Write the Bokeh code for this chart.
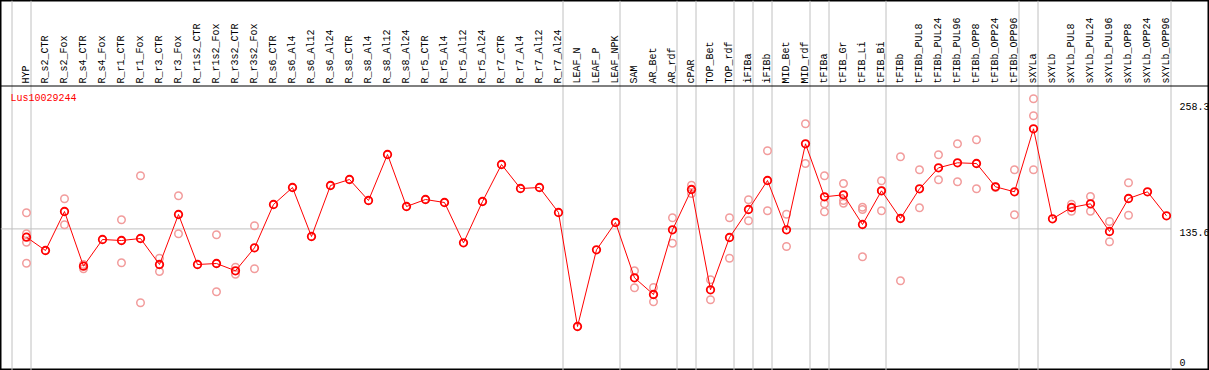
import math
from bokeh.plotting import figure
from bokeh.models import Range1d, ColumnDataSource
from bokeh.core.properties import value
from bokeh.embed import file_html
from bokeh.resources import INLINE

# ---------------- data ----------------
gene_id = "Lus10029244"

categories = [
    "HYP", "R_s2_CTR", "R_s2_Fox", "R_s4_CTR", "R_s4_Fox", "R_r1_CTR", "R_r1_Fox",
    "R_r3_CTR", "R_r3_Fox", "R_r1s2_CTR", "R_r1s2_Fox", "R_r3s2_CTR", "R_r3s2_Fox",
    "R_s6_CTR", "R_s6_Al4", "R_s6_Al12", "R_s6_Al24", "R_s8_CTR", "R_s8_Al4",
    "R_s8_Al12", "R_s8_Al24", "R_r5_CTR", "R_r5_Al4", "R_r5_Al12", "R_r5_Al24",
    "R_r7_CTR", "R_r7_Al4", "R_r7_Al12", "R_r7_Al24", "LEAF_N", "LEAF_P", "LEAF_NPK",
    "SAM", "AR_Bet", "AR_rdf", "cPAR", "TOP_Bet", "TOP_rdf", "iFIBa", "iFIBb",
    "MID_Bet", "MID_rdf", "tFIBa", "tFIB_Gr", "tFIB_Li", "tFIB_Bi", "tFIBb",
    "tFIBb_PUL8", "tFIBb_PUL24", "tFIBb_PUL96", "tFIBb_OPP8", "tFIBb_OPP24",
    "tFIBb_OPP96", "sXYLa", "sXYLb", "sXYLb_PUL8", "sXYLb_PUL24", "sXYLb_PUL96",
    "sXYLb_OPP8", "sXYLb_OPP24", "sXYLb_OPP96",
]

mean_values = [
    127.3, 114.0, 153.0, 98.3, 125.0, 124.0, 126.0, 100.0, 150.0, 100.0, 101.0,
    93.7, 116.7, 160.0, 177.0, 128.0, 179.0, 185.0, 164.0, 210.0, 158.0, 165.0,
    162.0, 121.7, 163.0, 200.0, 176.0, 177.0, 152.0, 38.0, 114.7, 142.0, 86.7,
    70.0, 134.7, 175.0, 74.7, 127.0, 155.0, 184.0, 134.7, 220.7, 167.7, 169.7,
    140.0, 173.7, 146.0, 175.7, 196.7, 201.7, 201.0, 177.7, 172.7, 235.7, 145.7,
    157.0, 160.7, 133.0, 166.0, 172.7, 148.7,
]

replicate_category = [
    "HYP", "HYP", "HYP", "HYP",
    "R_s2_Fox", "R_s2_Fox",
    "R_s4_CTR", "R_s4_CTR",
    "R_r1_CTR", "R_r1_CTR",
    "R_r1_Fox", "R_r1_Fox",
    "R_r3_CTR", "R_r3_CTR",
    "R_r3_Fox", "R_r3_Fox",
    "R_r1s2_Fox", "R_r1s2_Fox",
    "R_r3s2_CTR", "R_r3s2_CTR",
    "R_r3s2_Fox", "R_r3s2_Fox",
    "SAM", "SAM",
    "AR_Bet", "AR_Bet",
    "AR_rdf", "AR_rdf",
    "cPAR", "cPAR",
    "TOP_Bet", "TOP_Bet",
    "TOP_rdf", "TOP_rdf",
    "iFIBa", "iFIBa",
    "iFIBb", "iFIBb",
    "MID_Bet", "MID_Bet",
    "MID_rdf", "MID_rdf",
    "tFIBa", "tFIBa", "tFIBa",
    "tFIB_Gr", "tFIB_Gr", "tFIB_Gr",
    "tFIB_Li", "tFIB_Li", "tFIB_Li",
    "tFIB_Bi", "tFIB_Bi", "tFIB_Bi",
    "tFIBb", "tFIBb",
    "tFIBb_PUL8", "tFIBb_PUL8",
    "tFIBb_PUL24", "tFIBb_PUL24",
    "tFIBb_PUL96", "tFIBb_PUL96",
    "tFIBb_OPP8", "tFIBb_OPP8",
    "tFIBb_OPP24", "tFIBb_OPP24",
    "tFIBb_OPP96", "tFIBb_OPP96",
    "sXYLa", "sXYLa", "sXYLa",
    "sXYLb_PUL8", "sXYLb_PUL8",
    "sXYLb_PUL24", "sXYLb_PUL24",
    "sXYLb_PUL96", "sXYLb_PUL96",
    "sXYLb_OPP8", "sXYLb_OPP8",
]

replicate_values = [
    151.7, 130.7, 122.3, 101.3,
    165.7, 139.7,
    100.0, 95.7,
    144.7, 101.7,
    188.7, 61.7,
    106.3, 93.0,
    168.7, 130.7,
    129.7, 72.7,
    97.3, 90.3,
    138.7, 95.7,
    93.7, 76.7,
    77.0, 62.7,
    146.7, 121.3,
    179.3, 171.0,
    84.7, 64.7,
    146.7, 106.3,
    164.7, 143.7,
    213.7, 153.7,
    150.3, 118.0,
    240.7, 201.0,
    188.7, 160.7, 152.7,
    181.0, 164.0, 161.3,
    157.3, 155.0, 107.7,
    183.7, 173.7, 153.7,
    207.7, 83.7,
    194.7, 156.7,
    209.7, 184.7,
    220.7, 182.7,
    224.7, 175.7,
    177.7, 177.0,
    194.7, 149.7,
    265.7, 248.7, 194.7,
    160.3, 153.3,
    168.0, 153.3,
    143.0, 122.7,
    181.7, 149.3,
]

# sizes of the sample groups separated by vertical lines
group_sizes = [1, 28, 3, 3, 1, 2, 1, 1, 2, 1, 3, 7, 1, 7]

y_tick_values = [0, 135.6, 258.3]
y_tick_labels = ["0", "135.6", "258.3"]
reference_value = 135.6

# ---------------- layout (pixels) ----------------
W, H = 1209, 370
COL = 19            # pixels per sample column
FIRST_X = 26        # pixel of first sample
HEADER = 85         # pixel row of header divider
Y_BOTTOM = -6       # value at bottom pixel (1 px per unit)

FONT = value("Liberation Mono")
FSIZE = "10px"
RED = "#ff0000"
PINK = "#f29c9c"
GRAY = "#c0c0c0"

x_start = -FIRST_X / COL
x_end = (W - FIRST_X) / COL
y_start = Y_BOTTOM
y_end = Y_BOTTOM + H

idx = {c: i for i, c in enumerate(categories)}
n = len(categories)
xs = list(range(n))

p = figure(width=W, height=H, x_range=Range1d(x_start, x_end),
           y_range=Range1d(y_start, y_end), output_backend="svg",
           toolbar_location=None, x_axis_type=None, y_axis_type=None,
           min_border=0, background_fill_color="white",
           border_fill_color="white")
p.grid.visible = False
p.outline_line_color = "black"
p.outline_line_width = 2

# vertical group separators (through header too)
sep_off = 4.5 / COL
bounds = [-1]
acc = -1
for g in group_sizes:
    acc += g
    bounds.append(acc)
sep_x = [b + sep_off for b in bounds]
p.segment(x0=sep_x, y0=[y_start] * len(sep_x), x1=sep_x, y1=[y_end] * len(sep_x),
          line_color=GRAY, line_width=1)

# header divider
hdr_y = y_end - HEADER - 0.5
p.segment(x0=[x_start], y0=[hdr_y], x1=[x_end], y1=[hdr_y],
          line_color="black", line_width=1)

# reference gridline
p.segment(x0=[x_start], y0=[reference_value], x1=[sep_x[-1]], y1=[reference_value],
          line_color=GRAY, line_width=1)

# category labels (rotated)
lab_src = ColumnDataSource(dict(x=xs, y=[y_end - 83] * n, t=categories))
p.text(x="x", y="y", text="t", source=lab_src, angle=math.pi / 2,
       text_align="left", text_baseline="middle", text_font=FONT,
       text_font_size=FSIZE, text_color="black")

# gene id
p.text(x=[(10 - FIRST_X) / COL], y=[y_end - 97.5], text=[gene_id],
       text_align="left", text_baseline="middle", text_font=FONT,
       text_font_size=FSIZE, text_color=RED)

# value labels at right
lx = (1179 - FIRST_X) / COL
tick_src = ColumnDataSource(dict(x=[lx] * len(y_tick_values), y=y_tick_values,
                                 t=y_tick_labels, dy=[-2, 3.5, 0]))
p.text(x="x", y="y", text="t", y_offset="dy", source=tick_src,
       text_align="left", text_baseline="middle", text_font=FONT,
       text_font_size=FSIZE, text_color="black")

# replicates
rep_x = [idx[c] for c in replicate_category]
p.scatter(x=rep_x, y=replicate_values, marker="circle", size=7.5,
          line_color=PINK, line_width=1.5, fill_color=None)

# mean profile
p.line(x=xs, y=mean_values, line_color=RED, line_width=1)
p.scatter(x=xs, y=mean_values, marker="circle", size=7.5, line_color=RED,
          line_width=1.8, fill_color=None)

open("out.html", "w").write(file_html(p, INLINE))
